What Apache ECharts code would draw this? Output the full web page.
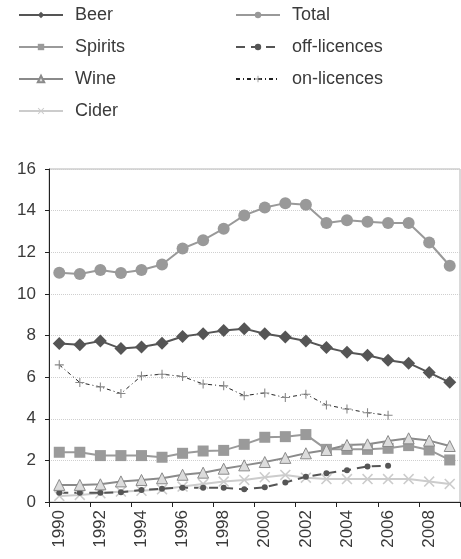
<!DOCTYPE html>
<html>
<head>
<meta charset="utf-8">
<script src="https://cdn.jsdelivr.net/npm/echarts@6/dist/echarts.min.js"></script>
<style>
  html, body { margin: 0; padding: 0; background: #fff; }
  #chart { width: 461px; height: 559px; }
</style>
</head>
<body>
<div id="chart"></div>
<script>
var years = ['1990', '1991', '1992', '1993', '1994', '1995', '1996', '1997', '1998', '1999',
  '2000', '2001', '2002', '2003', '2004', '2005', '2006', '2007', '2008', '2009']

var beer = [7.61, 7.55, 7.74, 7.37, 7.45, 7.63, 7.95, 8.09, 8.24, 8.33,
  8.08, 7.93, 7.74, 7.42, 7.19, 7.05, 6.81, 6.67, 6.22, 5.75]
var spirits = [2.39, 2.39, 2.23, 2.23, 2.23, 2.15, 2.34, 2.45, 2.48, 2.77,
  3.11, 3.14, 3.24, 2.53, 2.53, 2.53, 2.58, 2.71, 2.5, 2.02]
var wine = [0.82, 0.82, 0.85, 0.99, 1.06, 1.14, 1.31, 1.41, 1.6, 1.76,
  1.92, 2.12, 2.34, 2.5, 2.74, 2.77, 2.93, 3.06, 2.95, 2.69]
var cider = [0.29, 0.34, 0.42, 0.5, 0.54, 0.61, 0.74, 0.87, 0.98, 1.06,
  1.19, 1.3, 1.17, 1.1, 1.1, 1.1, 1.1, 1.1, 0.98, 0.87]
var total = [11.02, 10.95, 11.15, 11.0, 11.15, 11.41, 12.18, 12.58, 13.13, 13.77,
  14.15, 14.36, 14.28, 13.4, 13.54, 13.46, 13.41, 13.41, 12.47, 11.35]
var offLicences = [0.44, 0.44, 0.44, 0.47, 0.58, 0.64, 0.69, 0.69, 0.68, 0.61,
  0.71, 0.94, 1.21, 1.38, 1.53, 1.71, 1.74, null, null, null]
var onLicences = [6.59, 5.74, 5.53, 5.21, 6.06, 6.14, 6.03, 5.67, 5.58, 5.11,
  5.24, 5.02, 5.18, 4.66, 4.47, 4.29, 4.17, null, null, null]

var yTicks = { min: 0, max: 16, interval: 2 }

// filled shapes for the x and + markers
var crossPath = 'path://M0,1L1,0L5,4L9,0L10,1L6,5L10,9L9,10L5,6L1,10L0,9L4,5Z'
var plusPath = 'path://M4.4,0H5.6V4.4H10V5.6H5.6V10H4.4V5.6H0V4.4H4.4Z'

var font = 'Liberation Sans, Arial, sans-serif'

function lineSeries(name, data, opts) {
  return Object.assign({
    name: name,
    type: 'line',
    data: data,
    connectNulls: false,
    animation: false
  }, opts)
}

var legendText = { fontSize: 18, color: '#3a3a3a', fontFamily: font, padding: [0, 0, 0, 7] }

var option = {
  backgroundColor: '#fff',
  textStyle: { fontFamily: font },
  legend: [{
    data: ['Beer', 'Spirits', 'Wine', 'Cider'],
    orient: 'vertical',
    left: 18,
    top: 6,
    padding: 0,
    itemWidth: 44,
    itemHeight: 8,
    itemGap: 14,
    textStyle: legendText
  }, {
    data: ['Total', 'off-licences', 'on-licences'],
    orient: 'vertical',
    left: 235,
    top: 6,
    padding: 0,
    itemWidth: 44,
    itemHeight: 8,
    itemGap: 14,
    textStyle: legendText
  }],
  grid: {
    left: 49,
    right: 1,
    top: 169,
    bottom: 57,
    show: true,
    borderColor: '#b5b5b5',
    borderWidth: 1
  },
  xAxis: {
    type: 'category',
    data: years,
    boundaryGap: true,
    axisLine: { lineStyle: { color: '#222', width: 1 } },
    axisTick: { show: true, length: 5, lineStyle: { color: '#222' } },
    axisLabel: {
      rotate: 90,
      interval: 1,
      fontSize: 17,
      color: '#3a3a3a',
      margin: 8,
      fontFamily: font
    }
  },
  yAxis: {
    type: 'value',
    min: yTicks.min,
    max: yTicks.max,
    interval: yTicks.interval,
    axisLine: { show: true, lineStyle: { color: '#222', width: 1 } },
    axisTick: { show: true, length: 4, lineStyle: { color: '#222' } },
    axisLabel: { fontSize: 17, color: '#3a3a3a', margin: 13, fontFamily: font },
    splitLine: { lineStyle: { color: '#cfcfcf', type: 'dotted' } }
  },
  series: [
    lineSeries('Beer', beer, {
      symbol: 'diamond',
      symbolSize: 13,
      color: '#555',
      lineStyle: { color: '#555', width: 2 },
      itemStyle: { color: '#555' },
      z: 5
    }),
    lineSeries('Spirits', spirits, {
      symbol: 'rect',
      symbolSize: 11,
      color: '#9a9a9a',
      lineStyle: { color: '#9a9a9a', width: 2 },
      itemStyle: { color: '#9a9a9a' },
      z: 4
    }),
    lineSeries('Wine', wine, {
      symbol: 'triangle',
      symbolSize: 11,
      color: '#8a8a8a',
      lineStyle: { color: '#8a8a8a', width: 2 },
      itemStyle: { color: '#dcdcdc', borderColor: '#8a8a8a', borderWidth: 1 },
      z: 4
    }),
    lineSeries('Cider', cider, {
      symbol: crossPath,
      symbolSize: 11,
      color: '#cccccc',
      lineStyle: { color: '#cccccc', width: 2 },
      itemStyle: { color: '#cccccc' },
      z: 3
    }),
    lineSeries('Total', total, {
      symbol: 'circle',
      symbolSize: 12,
      color: '#999',
      lineStyle: { color: '#999', width: 2 },
      itemStyle: { color: '#999' },
      z: 4
    }),
    lineSeries('off-licences', offLicences, {
      symbol: 'circle',
      symbolSize: 6,
      color: '#555',
      lineStyle: { color: '#555', width: 2, type: [9, 6] },
      itemStyle: { color: '#555' },
      z: 3
    }),
    lineSeries('on-licences', onLicences, {
      symbol: plusPath,
      symbolSize: 9,
      color: '#222',
      lineStyle: { color: '#222', width: 1, type: [4, 3, 1, 3] },
      itemStyle: { color: '#888' },
      z: 3
    })
  ]
}

var myChart = echarts.init(document.getElementById('chart'))
myChart.setOption(option)
</script>
</body>
</html>
